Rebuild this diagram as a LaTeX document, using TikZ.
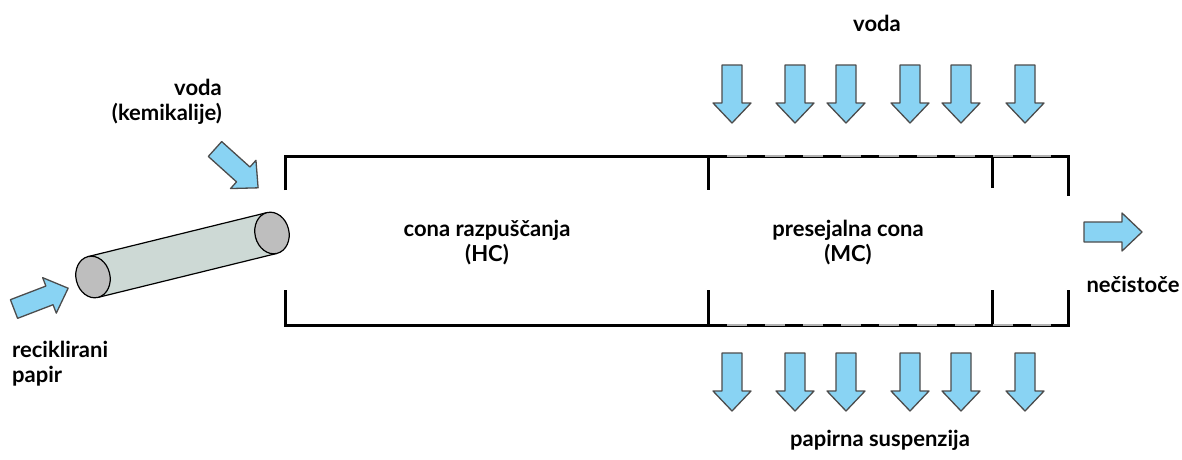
\documentclass[tikz,border=0pt]{standalone}
\usepackage{fontspec}
\setmainfont{Lato}
\usetikzlibrary{calc}

\definecolor{modra}{RGB}{137,211,243}
\definecolor{plasc}{RGB}{205,217,213}
\definecolor{konec}{RGB}{190,190,190}

\tikzset{
  napis/.style={font=\bfseries\fontsize{22}{25}\selectfont, align=center, inner sep=0pt},
  stena/.style={line width=3pt},
  sito/.style={line width=1.8pt, draw=black!30, dash pattern=on 20pt off 18pt},
  puscica/.style={fill=modra, draw=black!70, line width=1.3pt, line join=round},
  pics/blok/.style={code={
    \filldraw[puscica] (0,-10) -- (38,-10) -- (38,-19) -- (58,0) -- (38,19) -- (38,10) -- (0,10) -- cycle;
  }},
}

\begin{document}
\begin{tikzpicture}[x=1pt, y=-1pt]
  \useasboundingbox (0,0) rectangle (1182,459);

  % vhod: valj
  \coordinate (A) at (93,277);
  \coordinate (B) at (272,233);
  \fill[plasc] ($(A)!21pt!90:(B)$) -- ($(B)!21pt!-90:(A)$) -- ($(B)!21pt!90:(A)$) -- ($(A)!21pt!-90:(B)$) -- cycle;
  \draw[line width=1.2pt] ($(A)!21pt!90:(B)$) -- ($(B)!21pt!-90:(A)$);
  \draw[line width=1.2pt] ($(A)!21pt!-90:(B)$) -- ($(B)!21pt!90:(A)$);
  \filldraw[fill=konec, line width=1.2pt, rotate around={13.8:(B)}] (B) ellipse (17 and 21);
  \filldraw[fill=konec, line width=1.2pt, rotate around={13.8:(A)}] (A) ellipse (17 and 21);

  % stene boben
  \draw[stena] (285,190) -- (285,156) -- (1068,156) -- (1068,196);
  \draw[stena] (708,156) -- (708,190);
  \draw[stena] (992,156) -- (992,188);
  \draw[stena] (285,290) -- (285,325) -- (1068,325) -- (1068,290);
  \draw[stena] (708,290) -- (708,325);
  \draw[stena] (992,290) -- (992,325);
  % sito
  \draw[sito] (727,156) -- (1066,156);
  \draw[sito] (727,325) -- (1066,325);

  % puscice
  \foreach \x in {732,795,846,910,961,1025} {
    \pic[rotate=-90] at (\x,65) {blok};
    \pic[rotate=-90] at (\x,353) {blok};
  }
  \pic[rotate=21] at (14,309) {blok};
  \pic[rotate=-42] at (215,149) {blok};
  \pic at (1084,232) {blok};

  % napisi
  \node[napis] (vodazg) at (877,23) {voda};
  \node[napis, align=right, anchor=east] (kemikalije) at (222,102) {voda\\(kemikalije)};
  \node[napis] (hc) at (487,243) {cona razpuščanja\\(HC)};
  \node[napis] (mc) at (848,243) {presejalna cona\\(MC)};
  \node[napis] (necistoce) at (1133,284) {nečistoče};
  \node[napis, align=left, anchor=west] (papir) at (12,364) {reciklirani\\papir};
  \node[napis] (suspenzija) at (880,440) {papirna suspenzija};
\end{tikzpicture}
\end{document}
